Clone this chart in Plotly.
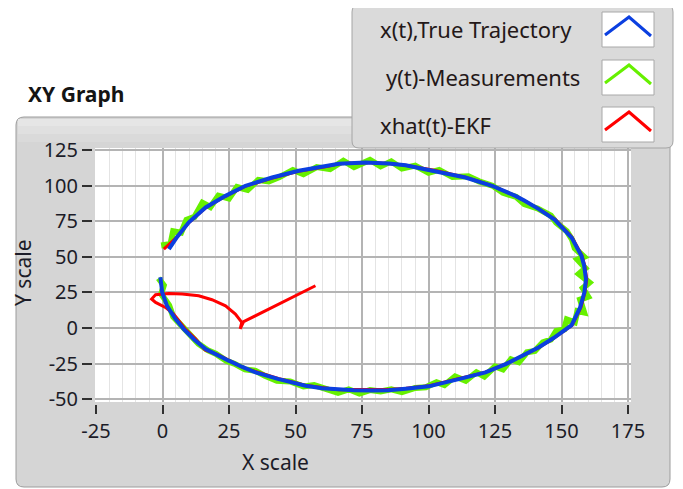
import plotly.graph_objects as go

W, H = 683, 489
OFF = 8  # page body margin shift
def px(x): return (x - OFF) / W
def py(y): return 1 - (y - OFF) / H

# ---------------- data ----------------
true_x = [-0.8, -0.1, 1.7, 4.9, 8.0, 12.0, 16.2, 20.5, 24.9, 30.0, 35.0, 43.7, 53.8, 60.0, 66.3,
          72.0, 78.8, 85.0, 91.4, 100.1, 111.4, 121.4, 129.0, 135.0, 141.5, 147.0, 151.0, 153.8,
          157.0, 158.6, 159.2, 158.5, 157.5, 153.8, 147.5, 141.5, 136.0, 132.7, 123.9, 113.9,
          101.4, 91.4, 85.0, 76.3, 66.3, 62.5, 51.2, 41.2, 31.2, 23.7, 16.2, 9.9, 5.5, 2.4]
true_y = [35.6, 25.0, 15.6, 6.3, -0.7, -8.2, -14.7, -19.0, -22.9, -27.3, -31.1, -35.8, -40.5, -42.3, -43.3,
          -43.7, -43.8, -43.7, -42.6, -40.9, -35.8, -31.1, -25.3, -19.6, -13.5, -7.0, -2.0, 2.0,
          14.5, 25.0, 34.4, 44.0, 50.7, 63.5, 76.0, 83.5, 89.5, 92.8, 99.9, 105.7,
          110.4, 114.3, 115.6, 116.3, 115.3, 114.0, 110.4, 105.7, 99.9, 92.8, 84.7, 74.2, 64.0, 55.4]

meas_x = [-1.5, 0.5, -0.5, 2.5, 4.0, 8.5, 11.0, 13.5, 17.0, 20.0, 24.0, 27.0, 31.0, 35.0, 38.5, 43.0,
          48.0, 53.0, 57.0, 61.0, 66.0, 70.0, 74.0, 78.0, 82.0, 86.0, 90.0, 95.0, 99.0, 103.0, 106.0,
          110.0, 114.0, 118.0, 121.0, 125.0, 128.0, 131.0, 134.0, 137.0, 140.0, 143.0, 146.0, 148.0,
          151.0, 152.0, 155.0, 156.0, 158.5, 157.0, 160.0, 158.0, 160.5, 156.5, 159.0, 156.0, 158.5,
          155.0, 154.0, 152.0, 148.0, 146.0, 141.0, 136.0, 133.0, 128.0, 124.0, 119.0, 115.0, 109.0,
          104.0, 100.0, 95.0, 90.0, 86.0, 82.0, 78.0, 72.0, 68.0, 63.0, 58.0, 53.0, 49.0, 44.0, 40.0,
          36.0, 32.0, 28.0, 25.0, 21.0, 18.0, 15.0, 12.0, 9.0, 7.0, 4.0, 3.0, -0.5]
meas_y = [35.0, 30.0, 24.0, 16.0, 8.0, -1.5, -7.0, -11.0, -15.5, -18.0, -23.0, -25.0, -29.0, -30.0, -33.5, -37.0,
          -37.5, -41.0, -40.0, -42.5, -45.5, -43.0, -46.0, -43.5, -44.5, -43.0, -45.0, -42.0, -41.5, -38.0, -40.0,
          -34.0, -37.0, -31.0, -34.0, -27.0, -29.0, -22.0, -24.0, -17.0, -16.0, -10.0, -8.0, -2.0,
          -1.0, 6.0, 4.0, 12.0, 11.0, 20.0, 22.0, 28.0, 32.0, 38.0, 42.0, 48.0, 50.0,
          56.0, 62.0, 68.0, 74.0, 79.0, 84.0, 87.0, 92.0, 95.0, 100.0, 103.0, 106.5, 106.0,
          111.0, 109.0, 114.0, 112.0, 117.0, 113.5, 118.0, 113.0, 117.5, 111.5, 113.0, 108.0, 111.0, 106.0, 103.0,
          104.0, 97.0, 99.0, 91.0, 93.0, 85.0, 88.0, 78.0, 76.0, 67.0, 68.0, 59.0, 58.0]

ekf_x = [57.5, 50.0, 43.0, 36.0, 30.5, 29.2, 29.8, 27.4, 23.7, 18.6, 13.6, 7.4, 2.4, -2.6, -4.1, -2.6,
         1.1, 4.2, 8.4, 12.4, 16.0, 20.8, 25.0, 30.3, 35.2, 43.5, 53.6, 60.2, 66.3, 72.0, 78.8, 85.0,
         91.6, 100.3, 111.6, 121.2, 129.3, 135.0, 141.6, 147.1, 151.1, 154.0, 157.3, 158.8, 159.5,
         158.7, 157.7, 154.0, 147.7, 141.4, 136.0, 132.7, 123.9, 113.9, 101.6, 91.4, 85.0, 76.3,
         66.3, 62.3, 51.2, 41.0, 31.0, 23.5, 16.0, 9.7, 5.3, 0.5]
ekf_y = [29.7, 22.8, 16.3, 10.0, 4.5, -0.6, 4.0, 9.8, 15.6, 19.9, 22.7, 23.9, 24.3, 23.4, 20.4, 18.0,
         14.5, 9.8, -0.3, -7.6, -15.3, -18.6, -22.5, -27.8, -30.6, -35.3, -40.1, -41.8, -43.3, -43.2, -43.3, -43.2,
         -42.2, -40.4, -35.3, -31.1, -25.0, -19.6, -13.6, -7.1, -2.1, 2.0, 14.5, 25.0, 34.4,
         44.0, 50.9, 63.7, 76.3, 83.8, 89.5, 92.8, 99.9, 105.9, 110.9, 114.3, 115.6, 116.3,
         115.3, 113.6, 110.1, 105.2, 99.5, 92.3, 84.1, 73.6, 63.6, 55.4]

names = ["x(t),True Trajectory", "y(t)-Measurements", "xhat(t)-EKF"]
colors = ["#0b3fe0", "#66f000", "#ff0000"]
x_ticks = [-25, 0, 25, 50, 75, 100, 125, 150, 175]
x_tick_labels = ["-25", "0", "25", "50", "75", "100", "125", "150", "175"]
y_ticks = [125, 100, 75, 50, 25, 0, -25, -50]
y_tick_labels = ["125", "100", "75", "50", "25", "0", "-25", "-50"]

# ---------------- figure ----------------
fig = go.Figure()
fig.add_trace(go.Scatter(x=meas_x, y=meas_y, mode="lines", line=dict(color=colors[1], width=6),
                         name=names[1], showlegend=False))
fig.add_trace(go.Scatter(x=ekf_x, y=ekf_y, mode="lines", line=dict(color=colors[2], width=3),
                         name=names[2], showlegend=False))
fig.add_trace(go.Scatter(x=true_x, y=true_y, mode="lines", line=dict(color=colors[0], width=4),
                         name=names[0], showlegend=False))

PL, PR, PT, PB = 95, 631, 148, 402
x_range = [-25 - 1 / 2.66, 175 + 3 / 2.66]
y_range = [-50 - 2.7 / 1.4246, 125 + 2 / 1.4246]

tickfont = dict(family="Noto Sans", size=20, color="#1c1c28")
fig.update_layout(
    width=W, height=H, margin=dict(l=0, r=0, t=0, b=0, autoexpand=False),
    paper_bgcolor="white", plot_bgcolor="white", showlegend=False,
    xaxis=dict(domain=[px(PL), px(PR)], range=x_range, tickvals=x_ticks, ticktext=x_tick_labels,
               anchor="free", position=py(404), showline=False, zeroline=False, automargin=False,
               showgrid=True, gridcolor="#b4b4b4", gridwidth=2,
               minor=dict(dtick=5, tick0=0, showgrid=True, gridcolor="#e4e4e4", gridwidth=1, ticks=""),
               ticks="outside", ticklen=9, tickwidth=2, tickcolor="#303030",
               tickfont=tickfont, fixedrange=True),
    yaxis=dict(domain=[py(PB), py(PT)], range=y_range, tickvals=y_ticks, ticktext=y_tick_labels,
               anchor="free", position=px(92), showline=False, zeroline=False, automargin=False,
               showgrid=True, gridcolor="#b4b4b4", gridwidth=2,
               ticks="outside", ticklen=10, tickwidth=2, tickcolor="#303030",
               tickfont=tickfont, fixedrange=True),
)

def rrect(x0, y0, x1, y1, r):
    rx, ry = r / W, r / H
    X0, X1, Y0, Y1 = px(x0), px(x1), py(y0), py(y1)
    return (f"M {X0+rx},{Y0} L {X1-rx},{Y0} Q {X1},{Y0} {X1},{Y0-ry} "
            f"L {X1},{Y1+ry} Q {X1},{Y1} {X1-rx},{Y1} L {X0+rx},{Y1} "
            f"Q {X0},{Y1} {X0},{Y1+ry} L {X0},{Y0-ry} Q {X0},{Y0} {X0+rx},{Y0} Z")

shapes = []
shapes.append(dict(type="path", xref="paper", yref="paper", path=rrect(16, 117, 670, 487, 8),
                   fillcolor="#d5d5d5", line=dict(color="#9c9c9c", width=1), layer="below"))
for (b0, b1, c) in [(119, 126, "#e6e6e6"), (126, 134, "#e0e0e0"), (134, 142, "#dadada")]:
    shapes.append(dict(type="rect", xref="paper", yref="paper", x0=px(18), x1=px(668), y0=py(b1), y1=py(b0),
                       fillcolor=c, line=dict(width=0), layer="below"))
shapes.append(dict(type="rect", xref="paper", yref="paper", x0=px(PL), x1=px(PR), y0=py(PB), y1=py(PT),
                   fillcolor="white", line=dict(width=0), layer="below"))
shapes.append(dict(type="path", xref="paper", yref="paper", path=rrect(352, 5, 673, 148, 7),
                   fillcolor="#dadada", line=dict(color="#a4a4a4", width=1), layer="above"))
icon_tops = [12, 60, 107]
for top, col in zip(icon_tops, colors):
    shapes.append(dict(type="rect", xref="paper", yref="paper", x0=px(602), x1=px(654),
                       y0=py(top + 35), y1=py(top), fillcolor="white",
                       line=dict(color="#a8a8a8", width=1), layer="above"))
    shapes.append(dict(type="path", xref="paper", yref="paper",
                       path=f"M {px(605)},{py(top+23)} L {px(629)},{py(top+5)} L {px(651)},{py(top+24)}",
                       line=dict(color=col, width=3), layer="above"))
fig.update_layout(shapes=shapes)

ann = []
ann.append(dict(text="<b>XY Graph</b>", x=px(26), y=py(94), xref="paper", yref="paper",
                xanchor="left", yanchor="middle", showarrow=False,
                font=dict(family="Noto Sans", size=21, color="#141414")))
ann.append(dict(text="X scale", x=px(275), y=py(462), xref="paper", yref="paper",
                xanchor="center", yanchor="middle", showarrow=False,
                font=dict(family="Noto Sans", size=21, color="#1c1c28")))
ann.append(dict(text="Y scale", x=px(23), y=py(273), xref="paper", yref="paper", textangle=-90,
                xanchor="center", yanchor="middle", showarrow=False,
                font=dict(family="Noto Sans", size=21, color="#1c1c28")))
leg_pos = [(378, 29), (384, 77), (378, 125)]
for (lx, ly), nm in zip(leg_pos, names):
    ann.append(dict(text=nm, x=px(lx), y=py(ly), xref="paper", yref="paper",
                    xanchor="left", yanchor="middle", showarrow=False,
                    font=dict(family="Noto Sans", size=22, color="#241818")))
fig.update_layout(annotations=ann)

fig.write_html("out.html")
